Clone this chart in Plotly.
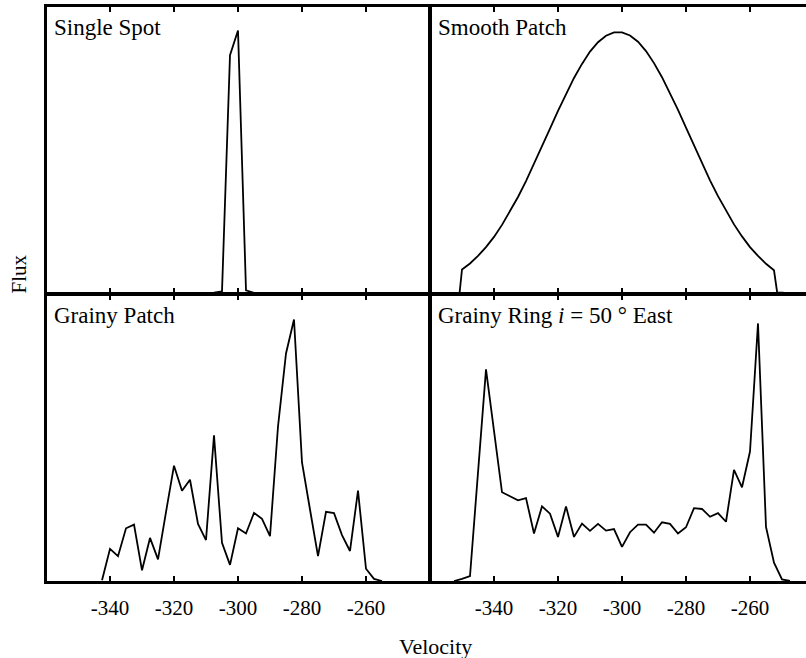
import plotly.graph_objects as go

# ---- line profiles: velocity (km/s) and normalised flux ----
spot_v = [-307.5, -305.0, -302.5, -300.0, -297.5, -295.0]
spot_flux = [0.0, 0.005, 0.910, 1.005, 0.009, 0.0]

smooth_v = [-350.75,
            -350.0, -347.5, -345.0, -342.5, -340.0, -337.5, -335.0, -332.5, -330.0, -327.5,
            -325.0, -322.5, -320.0, -317.5, -315.0, -312.5, -310.0, -307.5, -305.0, -302.5,
            -300.0, -297.5, -295.0, -292.5, -290.0, -287.5, -285.0, -282.5, -280.0, -277.5,
            -275.0, -272.5, -270.0, -267.5, -265.0, -262.5, -260.0, -257.5, -255.0, -252.5,
            -251.5, -249.5]
smooth_flux = [0.0,
               0.089, 0.112, 0.141, 0.175, 0.214, 0.260, 0.311, 0.367, 0.428, 0.493,
               0.560, 0.629, 0.697, 0.762, 0.823, 0.877, 0.924, 0.960, 0.985, 0.998,
               0.998, 0.986, 0.962, 0.926, 0.880, 0.826, 0.766, 0.701, 0.633, 0.564,
               0.496, 0.431, 0.370, 0.313, 0.262, 0.216, 0.175, 0.141, 0.111, 0.086,
               0.0, 0.0]

grainy_v = [-342.5, -340.0, -337.5, -335.0, -332.5, -330.0, -327.5, -325.0, -322.5,
            -320.0, -317.5, -315.0, -312.5, -310.0, -307.5, -305.0, -302.5, -300.0, -297.5,
            -295.0, -292.5, -290.0, -287.5, -285.0, -282.5, -280.0, -277.5, -275.0, -272.5,
            -270.0, -267.5, -265.0, -262.5, -260.0, -257.5, -255.0]
grainy_flux = [0.003, 0.123, 0.095, 0.202, 0.216, 0.041, 0.165, 0.083, 0.264,
               0.442, 0.346, 0.388, 0.219, 0.157, 0.558, 0.146, 0.062, 0.202, 0.182,
               0.261, 0.238, 0.172, 0.592, 0.872, 1.002, 0.454, 0.274, 0.095, 0.265,
               0.260, 0.176, 0.115, 0.346, 0.047, 0.008, 0.0]

ring_v = [-352.5, -350.0, -347.5, -345.0, -342.5, -340.0, -337.5, -335.0, -332.5,
          -330.0, -327.5, -325.0, -322.5, -320.0, -317.5, -315.0, -312.5, -310.0, -307.5,
          -305.0, -302.5, -300.0, -297.5, -295.0, -292.5, -290.0, -287.5, -285.0, -282.5,
          -280.0, -277.5, -275.0, -272.5, -270.0, -267.5, -265.0, -262.5, -260.0, -257.5,
          -255.0, -252.5, -250.0, -247.5]
ring_flux = [0.0, 0.008, 0.019, 0.415, 0.811, 0.575, 0.340, 0.325, 0.309,
             0.318, 0.182, 0.286, 0.258, 0.169, 0.286, 0.169, 0.220, 0.192, 0.219,
             0.193, 0.199, 0.131, 0.187, 0.216, 0.216, 0.185, 0.225, 0.219, 0.182,
             0.206, 0.279, 0.276, 0.246, 0.260, 0.227, 0.426, 0.359, 0.496, 0.987,
             0.207, 0.070, 0.006, 0.0]

panel_titles = ["Single Spot", "Smooth Patch", "Grainy Patch",
                "Grainy Ring <i>i</i> = 50 ° East"]
tick_vals = [-340, -320, -300, -280, -260]
tick_text = ["-340", "-320", "-300", "-280", "-260"]

FONT = "Liberation Serif"
INK = "black"
LW = 2.5

profiles = [(spot_v, spot_flux), (smooth_v, smooth_flux),
            (grainy_v, grainy_flux), (ring_v, ring_flux)]

fig = go.Figure()
for k, (v, f) in enumerate(profiles, start=1):
    fig.add_trace(go.Scatter(
        x=v, y=f, mode="lines",
        line=dict(color=INK, width=1.8),
        xaxis=f"x{k if k > 1 else ''}", yaxis=f"y{k if k > 1 else ''}",
        showlegend=False, hoverinfo="skip"))

# plotting area: 759 x 574 px; panels leave a line-width gap so that the
# borders of neighbouring panels fall on one shared line
W, H = 759, 574
x_domains = [[0, 381.75 / W], [384.25 / W, 1], [0, 381.75 / W], [384.25 / W, 1]]
y_domains = [[288.25 / H, 1], [288.25 / H, 1], [0, 285.75 / H], [0, 285.75 / H]]
x_ranges = [[-359.69, -240.39], [-359.61, -242.5],
            [-359.69, -240.39], [-359.61, -242.5]]
y_range = [0, 1.095]

layout = dict(
    width=806, height=658,
    margin=dict(l=47, r=0, t=7, b=77, pad=0),
    paper_bgcolor="white", plot_bgcolor="white",
    font=dict(family=FONT, color=INK, size=20),
    showlegend=False,
)

for i in range(4):
    sfx = "" if i == 0 else str(i + 1)
    left_col = i in (0, 2)
    bottom_row = i in (2, 3)
    layout["xaxis" + sfx] = dict(
        domain=x_domains[i], range=x_ranges[i], anchor="y" + sfx,
        tickmode="array", tickvals=tick_vals, ticktext=tick_text,
        ticks="inside", ticklen=5, tickwidth=2, tickcolor=INK,
        showline=True, linewidth=LW, linecolor=INK, mirror="ticks",
        showgrid=False, zeroline=False,
        showticklabels=bottom_row, ticklabelstandoff=6,
        tickfont=dict(family=FONT, size=21, color=INK),
    )
    layout["yaxis" + sfx] = dict(
        domain=y_domains[i], range=y_range, anchor="x" + sfx,
        ticks="", showticklabels=False,
        showline=True, linewidth=LW, linecolor=INK, mirror=left_col,
        showgrid=False, zeroline=False,
    )

annotations = []
for i, title in enumerate(panel_titles):
    sfx = "" if i == 0 else str(i + 1)
    annotations.append(dict(
        text=title, xref=f"x{sfx} domain", yref=f"y{sfx} domain",
        x=0, y=1, xanchor="left", yanchor="top", xshift=5, yshift=-6,
        showarrow=False, font=dict(family=FONT, size=23, color=INK)))

annotations.append(dict(
    text="Velocity", xref="paper", yref="paper",
    x=(435 - 47) / W, y=(581 - 646) / H, xanchor="center", yanchor="middle",
    showarrow=False, font=dict(family=FONT, size=22, color=INK)))
annotations.append(dict(
    text="Flux", xref="paper", yref="paper", textangle=-90,
    x=(18.5 - 47) / W, y=(581 - 274) / H, xanchor="center", yanchor="middle",
    showarrow=False, font=dict(family=FONT, size=21, color=INK)))
layout["annotations"] = annotations

fig.update_layout(**layout)
fig.write_html("out.html")
